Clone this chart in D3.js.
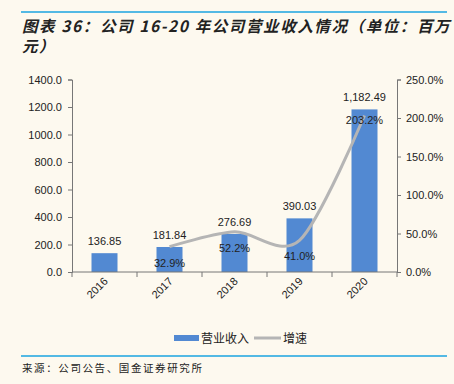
<!DOCTYPE html>
<html>
<head>
<meta charset="utf-8">
<style>
  body { margin: 0; background: #fdf9ef; }
  svg { display: block; }
  text { font-family: "Liberation Sans", Arial, sans-serif; fill: #222; }
  .cjk { font-family: "Noto Sans CJK SC", sans-serif; }
</style>
</head>
<body>
<div id="chart"></div>
<script src="https://cdn.jsdelivr.net/npm/d3@7"></script>
<script>
var years = ["2016", "2017", "2018", "2019", "2020"];
var revenue = [136.85, 181.84, 276.69, 390.03, 1182.49];
var growth = [null, 32.9, 52.2, 41.0, 203.2];
var leftTicks = [0, 200, 400, 600, 800, 1000, 1200, 1400];
var rightTicks = [0, 50, 100, 150, 200, 250];

var width = 454, height = 384;
var plotL = 72, plotR = 397, plotT = 79.5, plotB = 272;

var svg = d3.select("#chart").append("svg")
    .attr("width", width)
    .attr("height", height);

svg.append("rect").attr("width", width).attr("height", height).attr("fill", "#fdf9ef");

// top / bottom rules
svg.append("line").attr("x1", 21).attr("x2", 447).attr("y1", 12).attr("y2", 12)
    .attr("stroke", "#1aa3e0").attr("stroke-width", 1.5);
svg.append("line").attr("x1", 21).attr("x2", 447).attr("y1", 356).attr("y2", 356)
    .attr("stroke", "#1aa3e0").attr("stroke-width", 1.5);

var title = svg.append("text").attr("class", "cjk")
    .attr("font-size", 15.5).attr("font-weight", "bold").attr("font-style", "italic")
    .attr("letter-spacing", 1.6)
    .attr("fill", "#222");
title.append("tspan").attr("x", 22).attr("y", 32).text("图表 36：公司 16-20 年公司营业收入情况（单位：百万");
title.append("tspan").attr("x", 22).attr("y", 52).text("元）");

svg.append("text").attr("class", "cjk").attr("x", 22).attr("y", 372)
    .attr("font-size", 10.5).attr("fill", "#333").attr("letter-spacing", 1.6)
    .text("来源：公司公告、国金证券研究所");

var x = d3.scaleBand().domain(years).range([plotL, plotR]).paddingInner(0.6).paddingOuter(0.3);
var xb = d3.scaleBand().domain(years).range([plotL, plotR]);
var y = d3.scaleLinear().domain([0, 1400]).range([plotB, plotT]);
var y2 = d3.scaleLinear().domain([0, 250]).range([plotB, plotT]);

// left axis
var ga = svg.append("g").attr("transform", "translate(" + plotL + ",0)")
    .call(d3.axisLeft(y).tickValues(leftTicks).tickFormat(d3.format(".1f")).tickSize(4).tickPadding(6));
// right axis
var gb = svg.append("g").attr("transform", "translate(" + plotR + ",0)")
    .call(d3.axisRight(y2).tickValues(rightTicks).tickFormat(function(d) { return d.toFixed(1) + "%"; }).tickSize(4).tickPadding(5));
[ga, gb].forEach(function(g) {
  g.select(".domain").attr("stroke", "#777");
  g.selectAll(".tick line").attr("stroke", "#777");
  g.selectAll("text").attr("font-size", 11).attr("fill", "#333")
    .style("font-family", "Liberation Sans, Arial, sans-serif");
});

// bars
svg.append("g").selectAll("rect")
    .data(revenue)
  .enter().append("rect")
    .attr("x", function(d, i) { return x(years[i]); })
    .attr("y", function(d) { return y(d); })
    .attr("width", x.bandwidth())
    .attr("height", function(d) { return plotB - y(d); })
    .attr("fill", "#5289d2");

// x axis
svg.append("line").attr("x1", plotL).attr("x2", plotR).attr("y1", plotB).attr("y2", plotB)
    .attr("stroke", "#777");
svg.append("g").selectAll("line")
    .data(years.concat(["end"]))
  .enter().append("line")
    .attr("x1", function(d, i) { return plotL + i * xb.bandwidth(); })
    .attr("x2", function(d, i) { return plotL + i * xb.bandwidth(); })
    .attr("y1", plotB).attr("y2", plotB + 5)
    .attr("stroke", "#777");
svg.append("g").selectAll("text")
    .data(years)
  .enter().append("text")
    .attr("transform", function(d) {
      return "translate(" + (xb(d) + xb.bandwidth() / 2 + 4) + "," + (plotB + 10) + ") rotate(-45)";
    })
    .attr("text-anchor", "end")
    .attr("font-size", 11).attr("fill", "#333")
    .text(function(d) { return d; });

// bar labels
svg.append("g").selectAll("text")
    .data(revenue)
  .enter().append("text")
    .attr("x", function(d, i) { return x(years[i]) + x.bandwidth() / 2; })
    .attr("y", function(d) { return y(d) - 8; })
    .attr("text-anchor", "middle")
    .attr("font-size", 11)
    .text(function(d) { return d3.format(",.2f")(d); });

// growth line
var pts = growth.map(function(d, i) { return { year: years[i], v: d }; })
    .filter(function(d) { return d.v !== null; });
var line = d3.line()
    .x(function(d) { return xb(d.year) + xb.bandwidth() / 2; })
    .y(function(d) { return y2(d.v); })
    .curve(d3.curveCardinal.tension(0.1));
svg.append("path").datum(pts)
    .attr("d", line)
    .attr("fill", "none")
    .attr("stroke", "#b5b5b5")
    .attr("stroke-width", 3);

svg.append("g").selectAll("text")
    .data(pts)
  .enter().append("text")
    .attr("x", function(d) { return xb(d.year) + xb.bandwidth() / 2; })
    .attr("y", function(d, i) { return y2(d.v) + (i === pts.length - 1 ? 8 : 20); })
    .attr("text-anchor", "middle")
    .attr("font-size", 11)
    .text(function(d) { return d.v.toFixed(1) + "%"; });

// legend
var lg = svg.append("g");
lg.append("rect").attr("x", 174).attr("y", 335).attr("width", 25).attr("height", 6).attr("fill", "#5289d2");
lg.append("text").attr("class", "cjk").attr("x", 201).attr("y", 342.5).attr("font-size", 12).attr("fill", "#333").text("营业收入");
lg.append("line").attr("x1", 254).attr("x2", 281).attr("y1", 338).attr("y2", 338)
    .attr("stroke", "#b5b5b5").attr("stroke-width", 3);
lg.append("text").attr("class", "cjk").attr("x", 283).attr("y", 342.5).attr("font-size", 12).attr("fill", "#333").text("增速");
</script>
</body>
</html>
